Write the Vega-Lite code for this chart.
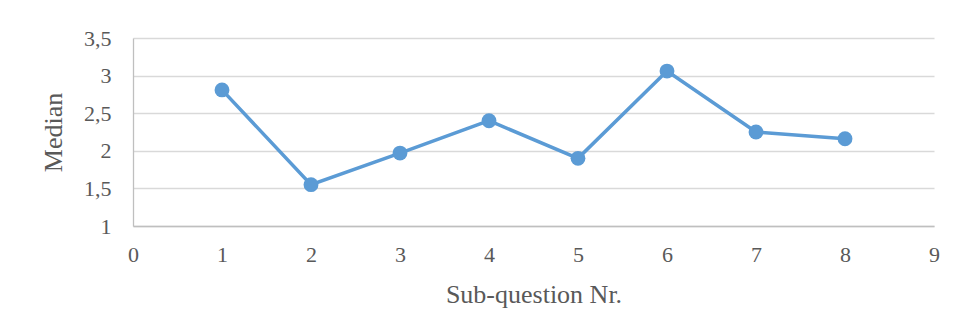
{
  "$schema": "https://vega.github.io/schema/vega-lite/v6.json",
  "width": 801,
  "height": 188,
  "autosize": {"type": "none"},
  "padding": {"left": 133, "top": 38, "right": 24, "bottom": 109},
  "background": "white",
  "config": {
    "view": {"stroke": null},
    "font": "Liberation Serif",
    "axis": {
      "labelFont": "Liberation Serif",
      "titleFont": "Liberation Serif",
      "labelColor": "#595959",
      "titleColor": "#595959",
      "titleFontWeight": "normal",
      "ticks": false,
      "domainColor": "#bfbfbf",
      "domainWidth": 1.3,
      "gridColor": "#d9d9d9",
      "gridWidth": 1.3
    }
  },
  "data": {
    "values": [
      {"sub": 1, "median": 2.81},
      {"sub": 2, "median": 1.55},
      {"sub": 3, "median": 1.97},
      {"sub": 4, "median": 2.4},
      {"sub": 5, "median": 1.9},
      {"sub": 6, "median": 3.06},
      {"sub": 7, "median": 2.25},
      {"sub": 8, "median": 2.16}
    ]
  },
  "encoding": {
    "x": {
      "field": "sub",
      "type": "quantitative",
      "title": "Sub-question Nr.",
      "scale": {"domain": [0, 9], "nice": false, "zero": false},
      "axis": {
        "values": [0, 1, 2, 3, 4, 5, 6, 7, 8, 9],
        "grid": false,
        "labelFlush": false,
        "labelFontSize": 22,
        "labelPadding": 18,
        "titleFontSize": 26,
        "titlePadding": 16
      }
    },
    "y": {
      "field": "median",
      "type": "quantitative",
      "title": "Median",
      "scale": {"domain": [1, 3.5], "nice": false, "zero": false},
      "axis": {
        "values": [1, 1.5, 2, 2.5, 3, 3.5],
        "labelExpr": "replace(toString(datum.value), '.', ',')",
        "labelFlush": false,
        "labelFontSize": 22,
        "labelPadding": 22,
        "titleFontSize": 26,
        "titlePadding": 17
      }
    }
  },
  "layer": [
    {
      "mark": {"type": "line", "color": "#5b9bd5", "strokeWidth": 3.5}
    },
    {
      "mark": {"type": "point", "filled": true, "shape": "circle", "size": 220, "color": "#5b9bd5", "opacity": 1}
    }
  ]
}
